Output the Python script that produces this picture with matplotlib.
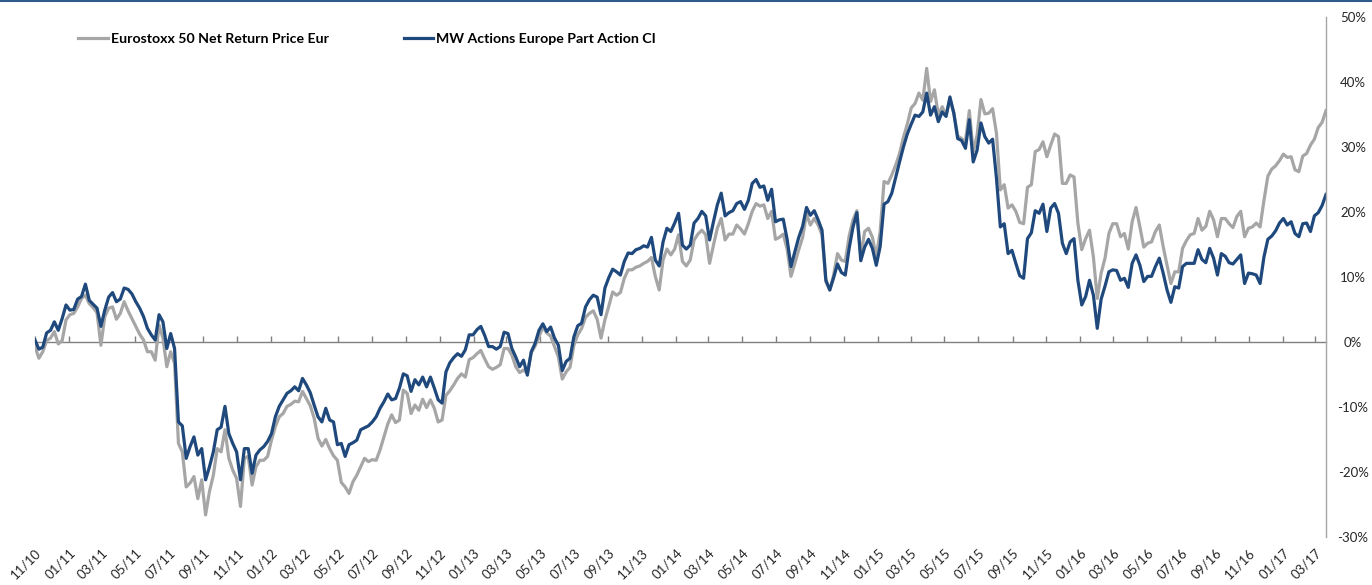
import matplotlib
matplotlib.use('Agg')
import matplotlib.pyplot as plt
import matplotlib.dates as mdates
from matplotlib.ticker import FuncFormatter, MultipleLocator
from matplotlib.lines import Line2D
import pandas as pd

plt.rcParams['font.family'] = ['Lato', 'DejaVu Sans']

# weekly performance since 11/2010, in %
start_date = '2010-11-01'

eurostoxx = [
    -0.7, -2.5, -1.5, 0.2, 0.6, 1.6, -0.3, 0.2, 3.4, 4.2,
    4.4, 5.4, 6.7, 7.2, 5.9, 5.3, 4.5, -0.5, 3.9, 5.2,
    5.4, 3.5, 4.4, 6.2, 4.8, 3.6, 2.4, 1.2, 0.3, -1.5,
    -1.5, -2.8, 2.6, 0.6, -3.8, -1.5, -3.3, -15.6, -16.9, -22.3,
    -21.7, -20.7, -24.1, -21.2, -26.6, -23.0, -20.5, -16.4, -16.9, -13.5,
    -17.9, -19.7, -21.0, -25.3, -17.9, -17.6, -22.0, -19.2, -18.2,
    -18.2, -17.6, -15.1, -13.0, -11.5, -11.0, -9.9, -9.6, -9.1, -9.2,
    -7.6, -8.7, -9.8, -11.7, -14.8, -16.0, -15.0, -16.4, -17.5, -18.2,
    -21.6, -22.3, -23.3, -21.5, -20.5, -19.2, -17.9, -18.4, -18.1, -18.2,
    -16.6, -14.6, -12.6, -11.2, -12.4, -12.0, -7.4, -7.9, -11.0, -9.7,
    -10.5, -8.8, -10.1, -8.9, -10.2, -12.3, -12.0, -8.2, -7.5, -6.6,
    -5.6, -4.9, -5.4, -2.7, -2.4, -1.8, -1.3,
    -2.6, -3.8, -4.2, -3.9, -3.5, -1.0, -1.0, -2.0, -3.8, -4.7,
    -4.3, -4.8, -1.7, -0.6, 0.8, 2.3, 1.4, 0.9, -0.7, -2.3,
    -5.7, -4.6, -3.9, -0.5, 1.1, 2.1, 3.8, 4.4, 4.8, 3.5,
    0.6, 3.4, 5.5, 7.7, 7.2, 7.6, 9.8, 11.1, 11.1, 11.5,
    11.7, 12.1, 12.4, 13.0, 10.1, 8.0, 12.6, 14.3, 13.4, 14.3,
    16.5, 12.4, 11.7, 12.6, 15.7, 16.6,
    17.2, 16.5, 12.1, 14.9, 17.5, 19.0, 15.7, 16.6, 16.6, 18.0,
    17.4, 16.6, 18.2, 20.1, 21.3, 20.9, 21.1, 19.0, 20.1, 15.8,
    16.1, 16.6, 14.3, 10.1, 12.1, 14.2, 16.1, 19.7, 18.0, 19.0,
    18.0, 16.5, 9.3, 8.0, 10.3, 13.6, 12.6, 12.4, 16.3, 18.8,
    20.2, 13.2, 17.0, 17.5, 16.1, 13.1, 17.0, 24.7, 24.4, 25.7,
    27.2, 29.0, 31.5, 33.5, 36.0,
    36.7, 38.3, 37.2, 42.1, 37.0, 38.8, 34.9, 36.2, 34.9, 37.3,
    35.2, 31.7, 31.3, 30.8, 35.6, 29.3, 31.8, 37.3, 35.1, 35.2,
    35.9, 32.1, 23.4, 24.2, 20.6, 21.1, 20.1, 18.4, 18.2, 23.8,
    24.2, 29.3, 29.6, 30.8, 28.5, 30.3, 32.0, 31.6, 24.4, 24.4,
    25.7, 25.4, 18.3, 14.2, 15.9, 17.2, 13.1, 6.7, 10.6, 12.9,
    16.7, 18.2, 18.2, 16.2, 16.7, 14.3, 18.5, 20.7, 17.7, 14.6,
    15.2, 15.4,
    17.0, 18.0, 14.7, 11.8, 9.0, 10.8, 10.8, 14.4, 15.6, 16.5,
    16.7, 19.0, 17.2, 17.8, 20.1, 18.8, 16.2, 19.0, 19.0, 18.2,
    17.6, 19.3, 20.1, 16.2, 17.5, 17.7, 18.3, 17.7, 21.8, 25.5,
    26.6, 27.1, 27.9, 28.9, 28.4, 28.5, 26.5, 26.2, 28.6, 29.0,
    30.3, 31.2, 33.0, 33.8, 35.6,
]

mw_actions = [
    0.3, -1.1, -0.8, 1.4, 1.8, 3.1, 1.8, 3.6, 5.7, 4.9,
    5.0, 6.6, 7.0, 8.9, 6.4, 5.8, 5.2, 2.4, 4.9, 6.9,
    7.6, 6.2, 6.6, 8.3, 8.1, 7.4, 6.2, 5.2, 3.9, 2.1,
    1.1, 0.3, 4.2, 3.1, -1.0, 1.3, -1.0, -12.3, -12.9, -17.9,
    -16.1, -14.6, -17.4, -16.4, -21.2, -19.2, -16.9, -13.5, -13.1, -9.9,
    -14.1, -15.6, -16.9, -21.2, -16.4, -16.4, -20.2, -17.4, -16.6,
    -16.1, -15.3, -14.1, -11.5, -9.9, -8.9, -7.9, -7.5, -6.9, -7.5,
    -5.6, -6.6, -7.8, -9.7, -11.5, -12.3, -10.2, -12.0, -12.3, -15.8,
    -15.6, -17.6, -15.8, -15.5, -15.1, -13.5, -13.2, -12.9, -12.3, -11.5,
    -10.2, -9.2, -8.0, -8.9, -8.7, -7.1, -4.9, -5.2, -7.6, -5.8,
    -6.6, -5.4, -6.9, -5.4, -7.1, -8.9, -9.4, -4.6, -3.2, -2.4,
    -1.8, -2.2, -1.2, 1.1, 1.1, 1.9, 2.4,
    1.0, -0.7, -0.7, -1.1, -0.7, 1.5, 1.3, -1.0, -2.3, -3.8,
    -2.8, -5.1, -1.5, -0.2, 1.8, 2.8, 1.6, 2.3, 0.6, -0.5,
    -4.4, -3.0, -2.5, 0.8, 2.5, 2.9, 5.4, 6.5, 7.2, 6.9,
    4.2, 8.3, 9.9, 11.2, 10.8, 10.3, 12.4, 13.7, 13.6, 14.2,
    14.4, 14.8, 14.6, 16.1, 12.6, 11.7, 15.4, 17.5, 17.0, 18.3,
    19.8, 14.9, 14.3, 14.9, 18.3, 19.0,
    20.1, 19.4, 15.7, 18.5, 21.1, 22.9, 19.4, 19.9, 20.2, 21.3,
    21.6, 20.4, 21.8, 24.4, 25.0, 23.8, 24.0, 21.8, 23.5, 18.5,
    18.8, 18.9, 15.8, 11.6, 13.9, 16.1, 17.8, 20.7, 19.5, 20.2,
    18.8, 17.2, 9.5, 8.0, 9.9, 12.0, 10.7, 10.3, 14.4, 17.7,
    19.9, 12.5, 14.6, 15.8, 14.4, 11.8, 14.7, 21.2, 21.6, 22.9,
    25.3, 27.7, 30.0, 32.0, 33.5,
    34.9, 34.7, 35.4, 38.3, 34.9, 36.2, 33.9, 35.4, 34.7, 37.7,
    35.2, 31.3, 31.0, 29.8, 34.2, 27.7, 29.5, 33.7, 31.6, 30.6,
    31.2, 25.2, 17.7, 18.2, 13.6, 14.1, 12.1, 10.2, 9.8, 15.9,
    16.8, 20.2, 19.8, 21.2, 17.0, 20.6, 21.3, 19.8, 15.2, 13.6,
    15.4, 15.9, 9.5, 5.7, 7.0, 9.5, 7.2, 2.1, 6.6, 8.6,
    10.8, 11.1, 11.0, 9.5, 9.8, 8.4, 12.1, 13.4, 11.8, 9.3,
    10.1, 10.1,
    11.6, 12.9, 10.6, 8.0, 6.1, 8.5, 8.3, 11.6, 12.1, 12.1,
    12.1, 14.2, 12.7, 12.2, 14.4, 12.9, 10.3, 13.6, 13.2, 12.2,
    12.0, 12.7, 13.4, 9.0, 10.6, 10.5, 10.3, 9.0, 13.1, 15.8,
    16.3, 17.1, 18.3, 19.0, 18.0, 18.5, 16.7, 16.2, 18.2, 18.3,
    17.0, 19.4, 19.9, 21.0, 22.7,
]

labels = ['Eurostoxx 50 Net Return Price Eur', 'MW Actions Europe Part Action CI']
colors = ['#A6A6A6', '#1F497D']

dates = pd.date_range(start_date, periods=len(eurostoxx), freq='7D')

W, H = 1372, 585
fig = plt.figure(figsize=(W / 100, H / 100), dpi=100)
ax = fig.add_axes([35 / W, 1 - 537 / H, (1326 - 35) / W, (537 - 17) / H])

ax.plot(dates, eurostoxx, color=colors[0], lw=2.3, label=labels[0],
        solid_joinstyle='round')
ax.plot(dates, mw_actions, color=colors[1], lw=2.3, label=labels[1],
        solid_joinstyle='round')

ax.set_xlim(dates[0], dates[-1])
ax.set_ylim(-30, 50)

# y axis on the right
ax.yaxis.tick_right()
ax.yaxis.set_major_locator(MultipleLocator(10))
ax.yaxis.set_major_formatter(FuncFormatter(lambda v, p: f'{v:.0f}%'))
ax.tick_params(axis='y', length=0, pad=19.5, labelsize=9.5, labelcolor='#262626')
for lab in ax.get_yticklabels():
    lab.set_horizontalalignment('center')

for s in ['top', 'left', 'bottom']:
    ax.spines[s].set_visible(False)
ax.spines['right'].set_color('#A6A6A6')
ax.spines['right'].set_linewidth(1)

# date labels at the bottom
months = mdates.MonthLocator(bymonth=[1, 3, 5, 7, 9, 11])
ax.xaxis.set_major_locator(months)
ax.xaxis.set_major_formatter(mdates.DateFormatter('%m/%y'))
ax.tick_params(axis='x', length=0, pad=7, labelsize=9.5, labelcolor='#262626')
plt.setp(ax.get_xticklabels(), rotation=45, ha='right', va='top',
         rotation_mode='anchor')

# zero line with small ticks
zero = ax.secondary_xaxis(30 / 80)
zero.xaxis.set_major_locator(mdates.MonthLocator(bymonth=[1, 3, 5, 7, 9, 11]))
zero.tick_params(axis='x', direction='in', length=4, width=1, color='#808080',
                 labelbottom=False)
zero.spines['bottom'].set_color('#808080')
zero.spines['bottom'].set_linewidth(1)
zero.set_zorder(1)

fig.legend(loc='center left', bbox_to_anchor=(78 / W, 1 - 39 / H), ncol=2,
           frameon=False, borderpad=0, borderaxespad=0,
           handlelength=2.1, handletextpad=0.2, columnspacing=5.3,
           prop={'weight': 'bold', 'size': 10.2})

fig.add_artist(Line2D([0, 1], [1 - 1 / H, 1 - 1 / H], transform=fig.transFigure,
                      color='#2F5B8C', lw=1.5))

fig.savefig('out.png', dpi=100)
